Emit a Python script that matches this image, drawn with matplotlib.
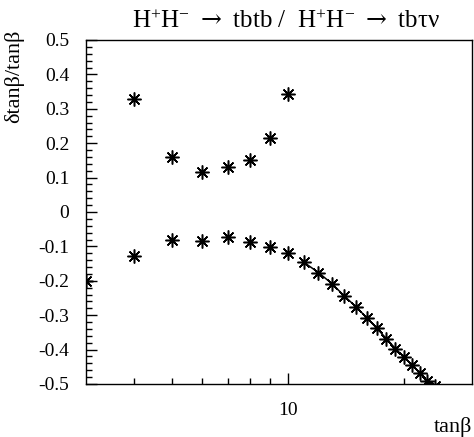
import matplotlib
matplotlib.use('Agg')
import matplotlib.pyplot as plt
import matplotlib.ticker as ticker

plt.rcParams['font.family'] = ['Liberation Serif', 'DejaVu Serif']
plt.rcParams['mathtext.fontset'] = 'custom'
plt.rcParams['mathtext.rm'] = 'Liberation Serif'
plt.rcParams['mathtext.sf'] = 'DejaVu Serif'
plt.rcParams['mathtext.default'] = 'regular'
plt.rcParams['axes.unicode_minus'] = False

# tbtb channel
tanb_top = [4, 5, 6, 7, 8, 9, 10]
err_top = [0.328, 0.161, 0.117, 0.130, 0.151, 0.214, 0.344]

# tb tau nu channel
tanb_bot = [3, 4, 5, 6, 7, 8, 9, 10, 11, 12, 13, 14, 15, 16, 17, 18, 19, 20, 21, 22, 23, 24]
err_bot = [-0.200, -0.127, -0.081, -0.083, -0.072, -0.088, -0.101, -0.120, -0.146, -0.176,
           -0.208, -0.244, -0.275, -0.307, -0.338, -0.368, -0.397, -0.422, -0.445, -0.469,
           -0.491, -0.506]

fig = plt.figure(figsize=(4.74, 4.37), dpi=100)
ax = fig.add_axes([86/474, 53/437, 386/474, 344/437])

star = (8, 2, 0)
# line through the high tanb part
ax.plot(tanb_bot[8:], err_bot[8:], color='black', lw=1.1)
for xs, ys in [(tanb_top, err_top), (tanb_bot, err_bot)]:
    ax.plot(xs, ys, ls='none', marker=star, ms=10, mew=1.1, color='black')
    ax.plot(xs, ys, ls='none', marker='o', ms=3.2, color='black')

ax.set_xscale('log')
ax.set_xlim(3, 30)
ax.set_ylim(-0.5, 0.5)

ax.xaxis.set_major_locator(ticker.FixedLocator([10]))
ax.xaxis.set_major_formatter(ticker.FixedFormatter(['10']))
ax.xaxis.set_minor_locator(ticker.FixedLocator([4, 5, 6, 7, 8, 9, 20]))
ax.xaxis.set_minor_formatter(ticker.NullFormatter())

yt = [-0.5, -0.4, -0.3, -0.2, -0.1, 0, 0.1, 0.2, 0.3, 0.4, 0.5]
ax.yaxis.set_major_locator(ticker.FixedLocator(yt))
ax.yaxis.set_major_formatter(ticker.FuncFormatter(lambda v, p: '%g' % round(v, 2)))
ax.yaxis.set_minor_locator(ticker.MultipleLocator(0.02))

ax.tick_params(which='both', direction='in', top=False, right=False, width=1, labelsize=14)
ax.tick_params(axis='y', which='major', length=8, pad=12)
ax.tick_params(axis='y', which='minor', length=4.5)
ax.tick_params(axis='x', which='major', length=8, pad=13)
ax.tick_params(axis='x', which='minor', length=4.5)
for s in ax.spines.values():
    s.set_linewidth(1)

fig.text(286/474, 1 - 22/437,
         r'H$^{+}$H$^{-}$ $\mathsf{\rightarrow}$ tbtb /  H$^{+}$H$^{-}$ $\mathsf{\rightarrow}$ tbτν',
         ha='center', va='center', fontsize=18)
fig.text(14/474, 1 - 30/437, 'δtanβ/tanβ', rotation=90, ha='center', va='top', fontsize=16)
fig.text(472/474, 1 - 427/437, 'tanβ', ha='right', va='center', fontsize=16)

fig.savefig('out.png', dpi=100)
